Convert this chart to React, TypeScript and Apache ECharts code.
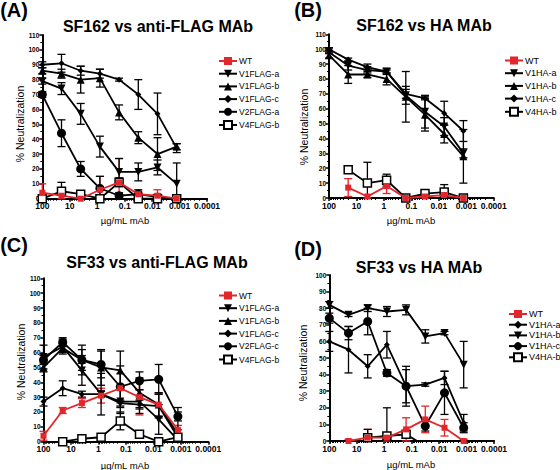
import React, { useEffect, useRef } from 'react';
import * as echarts from 'echarts';

// ---------- data ----------
const concentrations = [100, 20, 4, 0.8, 0.16, 0.032, 0.0064, 0.00128];
const xTickLabels = ['100', '10', '1', '0.1', '0.01', '0.001', '0.0001'];

// Panel A: SF162 vs anti-FLAG MAb
const aNames = ['WT', 'V1FLAG-a', 'V1FLAG-b', 'V1FLAG-c', 'V2FLAG-a', 'V4FLAG-b'];
const aWT = [4, 2, 0, 6, 11, 3, 2, 0];
const aWTErr = [6, 2, 1, 9, 16, 2, 4, 1];
const aV1a = [79, 74, 57, 35, 18, 18, 21, 10];
const aV1aErr = [2, 4, 7, 7, 9, 6, 5, 14];
const aV1b = [86, 84, 80, 81, 58, 41, 30, 35];
const aV1bErr = [2, 3, 9, 6, 5, 4, 11, 2];
const aV1c = [90, 91, 86, 84, 80, 70, 57, 34];
const aV1cErr = [2, 6, 3, 3, 1, 10, 14, 3];
const aV2a = [70, 44, 20, 7, 2, 3, 1, 0];
const aV2aErr = [2, 9, 5, 8, 2, 3, 2, 1];
const aV4b = [0, 5, 3, 0, 11, 0, 0, 0];
const aV4bErr = [1, 6, 2, 1, 3, 1, 1, 1];

// Panel B: SF162 vs HA MAb
const bNames = ['WT', 'V1HA-a', 'V1HA-b', 'V1HA-c', 'V4HA-b'];
const bWT = [null, 7, 1, 8, 0, 1, 2, 0];
const bWTErr = [0, 6, 1, 5, 1, 1, 1, 1];
const bV1a = [98, 89, 86, 85, 69, 58, 48, 30];
const bV1aErr = [1, 3, 2, 2, 6, 11, 6, 3];
const bV1b = [96, 83, 83, 80, 68, 56, 43, 28];
const bV1bErr = [2, 6, 2, 4, 17, 11, 6, 18];
const bV1c = [100, 93, 88, 85, 70, 67, 57, 45];
const bV1cErr = [1, 1, 2, 1, 3, 1, 8, 7];
const bV4b = [null, 19, 10, 12, 0, 3, 4, 0];
const bV4bErr = [0, 1, 14, 4, 1, 2, 5, 1];

// Panel C: SF33 vs anti-FLAG MAb
const cNames = ['WT', 'V1FLAG-a', 'V1FLAG-b', 'V1FLAG-c', 'V2FLAG-c', 'V4FLAG-b'];
const cWT = [4, 21, 26, 31, 36, 30, 25, 8];
const cWTErr = [3, 2, 3, 5, 10, 12, 8, 3];
const cV1a = [57, 64, 48, 32, 27, 27, 15, 1];
const cV1aErr = [8, 5, 10, 14, 8, 8, 10, 3];
const cV1b = [50, 63, 55, 50, 48, 33, 25, 5];
const cV1bErr = [3, 3, 7, 12, 13, 10, 8, 3];
const cV1c = [27, 36, 32, 32, 26, 25, 24, 3];
const cV1cErr = [3, 5, 2, 2, 2, 3, 8, 20];
const cV2c = [55, 67, 55, 52, 37, 41, 42, 17];
const cV2cErr = [3, 3, 10, 9, 14, 6, 10, 3];
const cV4b = [null, 0, 2, 3, 14, 5, 0, 3];
const cV4bErr = [0, 1, 1, 1, 6, 2, 1, 2];

// Panel D: SF33 vs HA MAb
const dNames = ['WT', 'V1HA-a', 'V1HA-b', 'V1HA-c', 'V4HA-b'];
const dWT = [null, 0, 2, 2, 7, 13, 8, 0];
const dWTErr = [0, 1, 5, 2, 7, 8, 5, 1];
const dV1a = [60, 55, 45, 58, 33, 34, 38, 11];
const dV1aErr = [6, 14, 7, 8, 12, 1, 4, 5];
const dV1b = [82, 76, 80, 78, 79, 63, 65, 46];
const dV1bErr = [2, 1, 2, 3, 3, 4, 1, 14];
const dV1c = [74, 65, 72, 41, 33, 9, 29, 8];
const dV1cErr = [3, 4, 8, 2, 10, 3, 13, 3];
const dV4b = [null, null, 2, 3, 4, -3, -5, -5];
const dV4bErr = [0, 0, 5, 17, 0, 0, 0, 0];

// ---------- styles ----------
const RED = '#e3262b';
const BLACK = '#000000';
const FONT = 'Liberation Sans, Arial, Helvetica, sans-serif';

type Mk = 'sqRed' | 'triDown' | 'triUp' | 'diamond' | 'circle' | 'sqOpen';
const markerStyle: Record<Mk, any> = {
  sqRed: { symbol: 'rect', symbolSize: 6, color: RED, fill: RED, rotate: 0 },
  triDown: { symbol: 'triangle', symbolSize: 8, color: BLACK, fill: BLACK, rotate: 180 },
  triUp: { symbol: 'triangle', symbolSize: 8, color: BLACK, fill: BLACK, rotate: 0 },
  diamond: { symbol: 'diamond', symbolSize: 6, color: BLACK, fill: BLACK, rotate: 0 },
  circle: { symbol: 'circle', symbolSize: 9, color: BLACK, fill: BLACK, rotate: 0 },
  sqOpen: { symbol: 'rect', symbolSize: 8, color: BLACK, fill: '#ffffff', rotate: 0 },
};

const panels = [
  {
    id: 'A', label: '(A)', title: 'SF162 vs anti-FLAG MAb', ymax: 110,
    grid: { left: 42.3, top: 35, width: 164.8, height: 163.7 },
    names: aNames, markers: ['sqRed', 'triDown', 'triUp', 'diamond', 'circle', 'sqOpen'] as Mk[],
    values: [aWT, aV1a, aV1b, aV1c, aV2a, aV4b],
    errors: [aWTErr, aV1aErr, aV1bErr, aV1cErr, aV2aErr, aV4bErr],
    labelPos: [14, 10], titlePos: [158, 26], yNamePos: [20, 124], xNamePos: [125, 220],
    legend: { left: 218, top: 56.5, fontSize: 8.5 },
  },
  {
    id: 'B', label: '(B)', title: 'SF162 vs HA MAb', ymax: 110,
    grid: { left: 329, top: 34.3, width: 164.8, height: 163.7 },
    names: bNames, markers: ['sqRed', 'triDown', 'triUp', 'diamond', 'sqOpen'] as Mk[],
    values: [bWT, bV1a, bV1b, bV1c, bV4b],
    errors: [bWTErr, bV1aErr, bV1bErr, bV1cErr, bV4bErr],
    labelPos: [308, 10], titlePos: [424, 25], yNamePos: [304, 127], xNamePos: [411, 220],
    legend: { left: 504, top: 56, fontSize: 9 },
  },
  {
    id: 'C', label: '(C)', title: 'SF33 vs anti-FLAG MAb', ymax: 110,
    grid: { left: 43.5, top: 278.3, width: 164.8, height: 163.4 },
    names: cNames, markers: ['sqRed', 'triDown', 'triUp', 'diamond', 'circle', 'sqOpen'] as Mk[],
    values: [cWT, cV1a, cV1b, cV1c, cV2c, cV4b],
    errors: [cWTErr, cV1aErr, cV1bErr, cV1cErr, cV2cErr, cV4bErr],
    labelPos: [14, 245], titlePos: [157, 262], yNamePos: [21, 362], xNamePos: [125, 465],
    legend: { left: 218, top: 291, fontSize: 8.5 },
  },
  {
    id: 'D', label: '(D)', title: 'SF33 vs HA MAb', ymax: 100,
    grid: { left: 329.3, top: 275, width: 164.8, height: 166 },
    names: dNames, markers: ['sqRed', 'diamond', 'triDown', 'circle', 'sqOpen'] as Mk[],
    values: [dWT, dV1a, dV1b, dV1c, dV4b],
    errors: [dWTErr, dV1aErr, dV1bErr, dV1cErr, dV4bErr],
    labelPos: [308, 249], titlePos: [419, 267], yNamePos: [303, 363], xNamePos: [411, 464],
    legend: { left: 508, top: 309.5, fontSize: 9, gap: 1.7 },
  },
];

function buildOption() {
  const grids: any[] = [];
  const xAxes: any[] = [];
  const yAxes: any[] = [];
  const series: any[] = [];
  const legends: any[] = [];
  const graphics: any[] = [];

  panels.forEach((p, pi) => {
    grids.push({ ...p.grid, containLabel: false, outerBoundsMode: 'none' });
    xAxes.push({
      type: 'log', gridIndex: pi, logBase: 10, min: 0.0001, max: 100, inverse: true, interval: 1,
      axisLine: { show: true, lineStyle: { color: BLACK, width: 2 } },
      axisTick: { show: true, length: 3, lineStyle: { color: BLACK, width: 1.5 } },
      minorTick: { show: true, splitNumber: 9, length: 2, lineStyle: { color: BLACK, width: 1 } },
      splitLine: { show: false },
      minorSplitLine: { show: false },
      axisLabel: {
        show: true, fontSize: 8.5, fontWeight: 'bold', color: BLACK, fontFamily: FONT, margin: 3,
        showMinLabel: true, showMaxLabel: true,
        formatter: (v: number) => {
          const e = Math.round(Math.log10(v));
          const idx = 2 - e;
          return xTickLabels[idx] ?? '';
        },
      },
    });
    yAxes.push({
      type: 'value', gridIndex: pi, min: 0, max: p.ymax, interval: 10,
      axisLine: { show: true, lineStyle: { color: BLACK, width: 2 } },
      axisTick: { show: true, length: 3, lineStyle: { color: BLACK, width: 1.5 } },
      minorTick: { show: true, splitNumber: 2, length: 2, lineStyle: { color: BLACK, width: 1 } },
      splitLine: { show: false },
      axisLabel: { fontSize: 6.5, fontWeight: 'bold', color: BLACK, fontFamily: FONT, margin: 3 },
    });

    const legendData: any[] = [];
    p.names.forEach((name, si) => {
      const mk = markerStyle[p.markers[si]];
      const vals = p.values[si];
      const errs = p.errors[si];
      const color = p.markers[si] === 'sqRed' ? RED : BLACK;
      const seriesName = p.id + '|' + name;
      const lineData: any[] = [];
      const errData: any[] = [];
      concentrations.forEach((c, i) => {
        const v = vals[i];
        if (v === null || v === undefined) return;
        lineData.push([c, v]);
        errData.push([c, v, errs[i]]);
      });
      legendData.push(seriesName);
      const ymax = p.ymax;
      series.push({
        type: 'custom', name: seriesName + '_err', xAxisIndex: pi, yAxisIndex: pi,
        data: errData, encode: { x: 0, y: 1 }, silent: true, z: 2,
        renderItem: (_params: any, api: any) => {
          const x = api.value(0), y = api.value(1), e = api.value(2);
          if (!e || y < 0) return null;
          const hi = Math.min(y + e, ymax);
          const lo = Math.max(y - e, 0);
          const t = api.coord([x, hi]);
          const b = api.coord([x, lo]);
          const hw = 4;
          const st = { stroke: color, lineWidth: 1.3 };
          const children: any[] = [
            { type: 'line', shape: { x1: t[0], y1: t[1], x2: b[0], y2: b[1] }, style: st },
          ];
          if (y + e <= ymax) children.push({ type: 'line', shape: { x1: t[0] - hw, y1: t[1], x2: t[0] + hw, y2: t[1] }, style: st });
          if (y - e >= 0) children.push({ type: 'line', shape: { x1: b[0] - hw, y1: b[1], x2: b[0] + hw, y2: b[1] }, style: st });
          return { type: 'group', children };
        },
      });
      series.push({
        type: 'line', name: seriesName, xAxisIndex: pi, yAxisIndex: pi, data: lineData,
        symbol: mk.symbol, symbolSize: mk.symbolSize, symbolRotate: mk.rotate,
        showSymbol: true, showAllSymbol: true, clip: true, z: color === RED ? 4 : 3,
        lineStyle: { color, width: 1.8 },
        itemStyle: { color: mk.fill, borderColor: mk.color, borderWidth: p.markers[si] === 'sqOpen' ? 1.5 : 0 },
        emphasis: { disabled: true },
      });
    });

    legends.push({
      show: true, orient: 'vertical', left: p.legend.left, top: p.legend.top,
      data: legendData, itemWidth: 18, itemHeight: 10, itemGap: (p.legend as any).gap ?? 3.7, padding: 0,
      selectedMode: false,
      formatter: (n: string) => n.split('|')[1],
      textStyle: { fontSize: p.legend.fontSize, color: BLACK, fontFamily: FONT, padding: [0, 0, 0, -3] },
    });

    graphics.push({
      type: 'text', x: p.labelPos[0], y: p.labelPos[1],
      style: { text: p.label, fontSize: 20, fontWeight: 'bold', fill: BLACK, fontFamily: FONT, align: 'center', verticalAlign: 'middle' },
    });
    graphics.push({
      type: 'text', x: p.titlePos[0], y: p.titlePos[1],
      style: { text: p.title, fontSize: 16, fontWeight: 'bold', fill: BLACK, fontFamily: FONT, align: 'center', verticalAlign: 'middle' },
    });
    graphics.push({
      type: 'text', x: p.yNamePos[0], y: p.yNamePos[1], rotation: Math.PI / 2,
      style: { text: '% Neutralization', fontSize: 10.5, fill: BLACK, fontFamily: FONT, align: 'center', verticalAlign: 'middle' },
    });
    graphics.push({
      type: 'text', x: p.xNamePos[0], y: p.xNamePos[1],
      style: { text: 'µg/mL mAb', fontSize: 9.5, fill: BLACK, fontFamily: FONT, align: 'center', verticalAlign: 'middle' },
    });
  });

  return {
    animation: false,
    backgroundColor: '#ffffff',
    textStyle: { fontFamily: FONT },
    grid: grids,
    xAxis: xAxes,
    yAxis: yAxes,
    legend: legends,
    series,
    graphic: graphics,
  };
}

export default function App() {
  const ref = useRef<HTMLDivElement>(null);
  useEffect(() => {
    if (!ref.current) return;
    const chart = echarts.init(ref.current, undefined, { renderer: 'svg' });
    chart.setOption(buildOption() as any);
    return () => chart.dispose();
  }, []);
  return (
    <div
      ref={ref}
      style={{ position: 'absolute', left: 0, top: 0, width: 560, height: 470, background: '#fff' }}
    />
  );
}
